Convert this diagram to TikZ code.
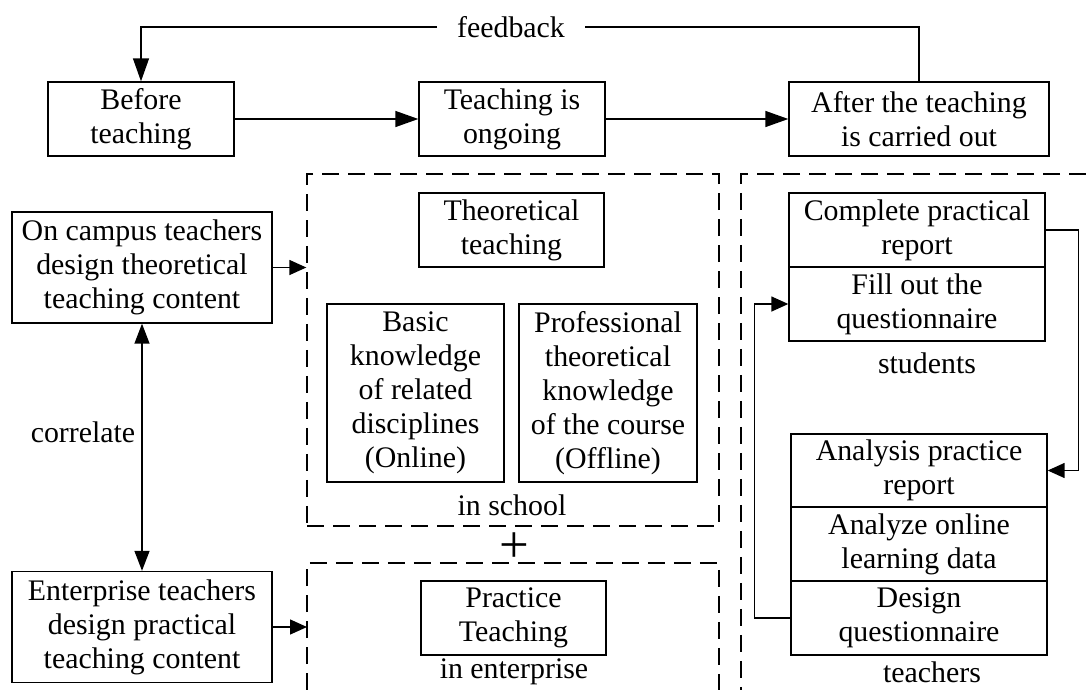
\documentclass[tikz,border=0pt]{standalone}
\usepackage{fontspec}
\setmainfont{Liberation Serif}
\usetikzlibrary{arrows.meta}

\begin{document}
\begin{tikzpicture}[x=0.02cm, y=-0.02cm, font=\fontsize{17}{19.4}\selectfont,
    box/.style={draw, line width=0.8pt, align=center, inner sep=0pt, minimum height=1.48cm},
    frame/.style={line width=0.8pt, dash pattern=on 0.34cm off 0.18cm},
    bigarrow/.style={line width=0.8pt, -{Triangle[length=0.46cm, width=0.32cm]}},
    arrow/.style={line width=0.8pt, -{Triangle[length=0.34cm, width=0.3cm]}},
    dblarrow/.style={line width=0.8pt, {Triangle[length=0.4cm, width=0.3cm]}-{Triangle[length=0.4cm, width=0.3cm]}}]
    \useasboundingbox (0,0) rectangle (1086,690);

    \node[box, minimum width=3.72cm] (before) at (141,119) {Before\\teaching};
    \node[box, minimum width=3.72cm] (ongoing) at (512,119) {Teaching is\\ongoing};
    \node[box, minimum width=5.2cm] (after) at (919,119) {After the teaching\\is carried out};
    \node[minimum width=2.94cm, inner sep=0pt] (feedback) at (511,27) {feedback};
    \draw[line width=0.8pt] (after.north) |- (feedback.east);
    \draw[bigarrow] (feedback.west) -| (before.north);
    \draw[bigarrow] (before) -- (ongoing);
    \draw[bigarrow] (ongoing) -- (after);

    \node[box, minimum width=5.2cm, minimum height=2.22cm] (campus) at (142,267.5) {On campus teachers\\design theoretical\\teaching content};
    \node[box, minimum width=5.2cm, minimum height=2.22cm] (enterprise) at (142,627) {Enterprise teachers\\design practical\\teaching content};
    \draw[dblarrow] (campus) -- (enterprise);
    \node (correlate) at (83,432) {correlate};

    \node[frame, draw, minimum width=8.24cm, minimum height=7.04cm] (school) at (513,350) {};
    \node[box, minimum width=3.7cm] (theory) at (511.5,230) {Theoretical\\teaching};
    \node[box, minimum width=3.54cm, minimum height=3.56cm] (basic) at (415.5,393) {Basic\\knowledge\\of related\\disciplines\\(Online)};
    \node[box, minimum width=3.56cm, minimum height=3.56cm] (professional) at (608,393) {Professional\\theoretical\\knowledge\\of the course\\(Offline)};
    \node (inschool) at (512,505) {in school};
    \draw[arrow] (campus.east) -- (campus.east -| school.west);

    \node[font=\fontsize{30}{32}\selectfont, inner sep=0pt] (plus) at (514.5,548) {+};

    \coordinate (entTL) at (307,563);
    \coordinate (entTR) at (719,563);
    \draw[frame] (307,690) -- (entTL) -- (entTR) -- (719,690);
    \node[box, minimum width=3.7cm] (practice) at (513.5,618) {Practice\\Teaching};
    \node (inenterprise) at (514,672) {in enterprise};
    \draw[arrow] (enterprise.east) -- (enterprise.east -| entTL);

    \draw[frame] (1086,174) -- (741,174) -- (741,690);
    \node[box, minimum width=5.12cm] (complete) at (917,230) {Complete practical\\report};
    \node[box, minimum width=5.12cm] (fill) at (917,304) {Fill out the\\questionnaire};
    \node (students) at (927,363) {students};
    \node[box, minimum width=5.12cm, minimum height=1.46cm] (analysis) at (919,470.5) {Analysis practice\\report};
    \node[box, minimum width=5.12cm] (analyze) at (919,544) {Analyze online\\learning data};
    \node[box, minimum width=5.12cm] (design) at (919,618) {Design\\questionnaire};
    \node (teachers) at (932,672) {teachers};
    \draw[arrow] (complete.east) -- ++(33,0) |- (analysis.east);
    \draw[arrow] (design.west) -- ++(-36,0) |- (fill.west);
\end{tikzpicture}
\end{document}
